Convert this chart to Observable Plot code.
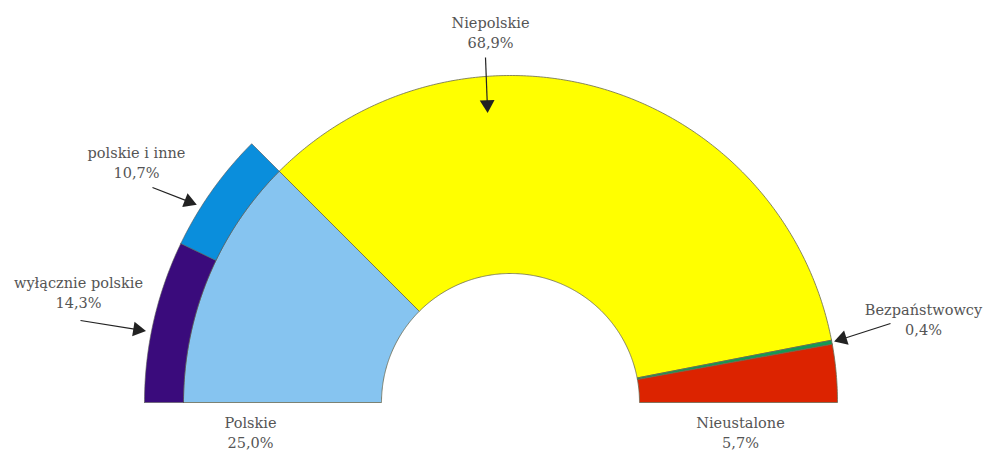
<!DOCTYPE html>
<html><head><meta charset="utf-8">
<script src="https://cdn.jsdelivr.net/npm/d3@7"></script>
<script src="https://cdn.jsdelivr.net/npm/@observablehq/plot@0.6"></script>
<style>body{margin:0;background:#fff}</style>
</head><body><div id="chart"></div>
<script>
// ---- data ----
const categories = ["Polskie", "Niepolskie", "Bezpaństwowcy", "Nieustalone"];
const shares = [25.0, 68.9, 0.4, 5.7];
const colors = ["#86C4F0", "#FFFF00", "#139A55", "#DC2300"];
const subCategories = ["wyłącznie polskie", "polskie i inne"];
const subShares = [14.3, 10.7];
const subColors = ["#3A0B7C", "#0A8EDC"];
const pctLabels = ["25,0%", "68,9%", "0,4%", "5,7%"];
const subPctLabels = ["14,3%", "10,7%"];

// ---- geometry (pixels relative to the half-donut centre) ----
const R_IN = 129, R_OUT = 327, R_RING = 366;
const toAngle = c => Math.PI - (c / 100) * Math.PI;

function sector(a0, a1, r0, r1) {
  const pts = [];
  const n = Math.max(2, Math.ceil(Math.abs(a1 - a0) / (Math.PI / 360)));
  for (let i = 0; i <= n; i++) { const a = a0 + (a1 - a0) * i / n; pts.push({x: r1 * Math.cos(a), y: r1 * Math.sin(a)}); }
  for (let i = n; i >= 0; i--) { const a = a0 + (a1 - a0) * i / n; pts.push({x: r0 * Math.cos(a), y: r0 * Math.sin(a)}); }
  pts.push(pts[0]);
  return pts;
}

const sectorMarks = [];
let cum = 0;
shares.forEach((v, i) => {
  sectorMarks.push(Plot.line(sector(toAngle(cum), toAngle(cum + v), R_IN, R_OUT),
    {x: "x", y: "y", fill: colors[i], stroke: "#6a6a50", strokeWidth: 0.8, curve: "linear"}));
  cum += v;
});
cum = 0;
subShares.forEach((v, i) => {
  sectorMarks.push(Plot.line(sector(toAngle(cum), toAngle(cum + v), R_OUT, R_RING),
    {x: "x", y: "y", fill: subColors[i], stroke: "#555", strokeWidth: 0.6, curve: "linear"}));
  cum += v;
});

// ---- annotation layout (label centre, first-line y, arrow from/to) ----
const notes = [
  {name: categories[1], pct: pctLabels[1], x: -20, y: 379, arrow: [-25, 345, -23, 293]},
  {name: subCategories[1], pct: subPctLabels[1], x: -374, y: 249, arrow: [-358, 215, -317, 199]},
  {name: subCategories[0], pct: subPctLabels[0], x: -432, y: 119, arrow: [-430, 82, -368, 72]},
  {name: categories[2], pct: pctLabels[2], x: 413, y: 92, arrow: [380, 79, 327, 62]},
  {name: categories[0], pct: pctLabels[0], x: -260, y: -21, arrow: null},
  {name: categories[3], pct: pctLabels[3], x: 230, y: -21, arrow: null}
];
const textRows = notes.flatMap(d => [{t: d.name, x: d.x, y: d.y}, {t: d.pct, x: d.x, y: d.y - 20}]);
const arrows = notes.filter(d => d.arrow).map(d => {
  const [x1, y1, x2, y2] = d.arrow;
  const len = Math.hypot(x2 - x1, y2 - y1), ux = (x2 - x1) / len, uy = (y2 - y1) / len;
  return {x1, y1, x2, y2, hx: x2 - ux * 5, hy: y2 - uy * 5,
          rot: Math.atan2(x2 - x1, y2 - y1) * 180 / Math.PI};
});

const chart = Plot.plot({
  width: 984, height: 450,
  margin: 0,
  x: {domain: [-510, 474], range: [0, 984], axis: null},
  y: {domain: [-48, 402], range: [450, 0], axis: null},
  marks: [
    ...sectorMarks,
    Plot.link(arrows, {x1: "x1", y1: "y1", x2: "hx", y2: "hy", stroke: "#222", strokeWidth: 1.2}),
    Plot.dot(arrows, {x: "hx", y: "hy", symbol: "triangle", r: 5.5, rotate: "rot", fill: "#222", stroke: "none"}),
    Plot.text(textRows, {x: "x", y: "y", text: "t", fill: "#555", fontSize: 14.5, fontFamily: "DejaVu Serif", textAnchor: "middle"})
  ]
});
document.getElementById("chart").appendChild(chart);
</script>
</body></html>
